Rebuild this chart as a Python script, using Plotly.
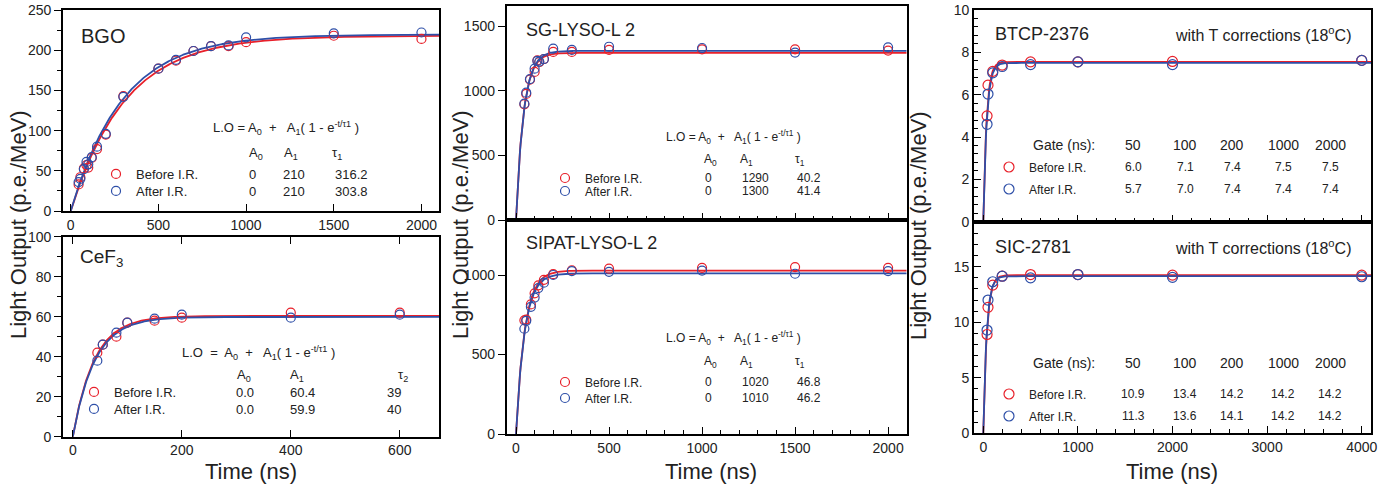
import numpy as np
import plotly.graph_objects as go

W, H = 1398, 488
FONT = "Liberation Sans, Arial, Helvetica, sans-serif"
RED = "#e8202a"
BLUE = "#2e4fa8"

# ---------------- data ----------------
# BGO
bgo_t = [45, 55, 75, 90, 100, 120, 150, 200, 300, 500, 600, 700, 800, 900, 1000, 1500, 2000]
bgo_before = [33, 42, 53, 57, 54, 66, 77, 95, 143, 177, 187, 199, 205, 205, 210, 218, 214]
bgo_after = [36, 40, 52, 61, 58, 67, 80, 96, 142, 177, 188, 199, 205, 206, 216, 221, 222]
bgo_fit_before = (218.0, 310.0)   # plateau, tau as drawn
bgo_fit_after = (219.5, 296.0)

# CeF3
cef_t = [45, 55, 80, 100, 150, 200, 400, 600]
cef_before = [42, 46, 50, 57, 58, 59.5, 62, 62]
cef_after = [38, 46, 52, 57, 59, 61, 59.5, 61]
cef_fit_before = (60.4, 39.0)
cef_fit_after = (59.9, 40.0)

# SG-LYSO-L 2
sg_t = [45, 55, 75, 100, 115, 125, 150, 200, 300, 500, 1000, 1500, 2000]
sg_before = [895, 975, 1085, 1145, 1235, 1220, 1245, 1300, 1300, 1315, 1320, 1320, 1310]
sg_after = [900, 985, 1090, 1170, 1230, 1225, 1245, 1325, 1315, 1340, 1330, 1295, 1335]
sg_fit_before = (1293.0, 40.2)
sg_fit_after = (1308.0, 41.4)

# SIPAT-LYSO-L 2
sp_t = [45, 55, 80, 100, 120, 150, 200, 300, 500, 1000, 1500, 2000]
sp_before = [715, 720, 815, 885, 935, 970, 1005, 1030, 1040, 1045, 1050, 1045]
sp_after = [662, 712, 800, 858, 918, 952, 1000, 1025, 1020, 1028, 1008, 1025]
sp_fit_before = (1028.0, 46.8)
sp_fit_after = (1010.0, 46.2)

# BTCP-2376
bt_t = [40, 50, 100, 200, 500, 1000, 2000, 4000]
bt_before = [5.0, 6.45, 7.1, 7.4, 7.55, 7.55, 7.57, 7.62]
bt_after = [4.6, 6.03, 7.03, 7.33, 7.42, 7.55, 7.42, 7.62]
bt_fit_before = (7.55, 35.0)
bt_fit_after = (7.5, 37.0)

# SIC-2781
sc_t = [40, 50, 100, 200, 500, 1000, 2000, 4000]
sc_before = [8.9, 11.35, 13.35, 14.15, 14.3, 14.3, 14.25, 14.25]
sc_after = [9.3, 12.0, 13.65, 14.15, 14.0, 14.3, 14.05, 14.1]
sc_fit_before = (14.25, 38.0)
sc_fit_after = (14.15, 36.0)

# table texts
gate_labels = ["50", "100", "200", "1000", "2000"]
bt_tab_before = ["6.0", "7.1", "7.4", "7.5", "7.5"]
bt_tab_after = ["5.7", "7.0", "7.4", "7.4", "7.4"]
sc_tab_before = ["10.9", "13.4", "14.2", "14.2", "14.2"]
sc_tab_after = ["11.3", "13.6", "14.1", "14.2", "14.2"]


def px(xp):
    return xp / W


def py(yp):
    return 1 - yp / H


# ---------------- panels ----------------
panels = [
    dict(name="BGO", xd=(63, 439), yd=(10, 211), xr=(-44, 2100), yr=(0, 250),
         t=bgo_t, b=bgo_before, a=bgo_after, fb=bgo_fit_before, fa=bgo_fit_after, msize=9),
    dict(name="CeF3", xd=(63, 439), yd=(236.7, 436.7), xr=(-18, 672), yr=(0, 100),
         t=cef_t, b=cef_before, a=cef_after, fb=cef_fit_before, fa=cef_fit_after, msize=9),
    dict(name="SG", xd=(506.7, 906.7), yd=(6, 220), xr=(-50, 2100), yr=(0, 1655),
         t=sg_t, b=sg_before, a=sg_after, fb=sg_fit_before, fa=sg_fit_after, msize=9),
    dict(name="SIPAT", xd=(506.7, 906.7), yd=(220, 434), xr=(-50, 2100), yr=(0, 1346),
         t=sp_t, b=sp_before, a=sp_after, fb=sp_fit_before, fa=sp_fit_after, msize=9),
    dict(name="BTCP", xd=(974, 1371), yd=(10, 221.7), xr=(-98, 4098), yr=(0, 10),
         t=bt_t, b=bt_before, a=bt_after, fb=bt_fit_before, fa=bt_fit_after, msize=10),
    dict(name="SIC", xd=(974, 1371), yd=(221.7, 433.3), xr=(-98, 4098), yr=(0, 19.06),
         t=sc_t, b=sc_before, a=sc_after, fb=sc_fit_before, fa=sc_fit_after, msize=10),
]

axis_style = [
    dict(xdt=500, xmin=None, xlab=True, xmir=True, ydt=50, ymin=25, ydir="outside"),
    dict(xdt=200, xmin=None, xlab=True, xmir="ticks", ydt=20, ymin=10, ydir="outside"),
    dict(xdt=500, xmin=100, xlab=False, xmir=True, ydt=500, ymin=None, ydir="outside"),
    dict(xdt=500, xmin=100, xlab=True, xmir=True, ydt=500, ymin=None, ydir="outside"),
    dict(xdt=1000, xmin=200, xlab=False, xmir=True, ydt=2, ymin=0.4, ydir="inside"),
    dict(xdt=1000, xmin=200, xlab=True, xmir=True, ydt=5, ymin=1, ydir="inside"),
]

# legend rows: legend left px, row centre px y (before / after), font size
legend_rows = [
    (96, 174, 191, 13),
    (74, 392, 409, 13),
    (545, 178, 191, 12),
    (545, 382, 398, 12),
    (989, 167, 189, 12),
    (989, 394, 416, 12),
]

fig = go.Figure()
layout = {}
legend_idx = 0
for i, (p, st) in enumerate(zip(panels, axis_style)):
    k = "" if i == 0 else str(i + 1)
    xa, ya = "x" + k, "y" + k
    tmax = p["xr"][1]
    tt = np.linspace(0, tmax, 600)
    for fit, col in ((p["fb"], RED), (p["fa"], BLUE)):
        A1, tau = fit
        fig.add_trace(go.Scatter(x=tt, y=A1 * (1 - np.exp(-tt / tau)), mode="lines",
                                 line=dict(color=col, width=1.8), showlegend=False,
                                 xaxis=xa, yaxis=ya, hoverinfo="skip"))
    lx, yb, yaft, fs = legend_rows[i]
    for vals, col, nm, yy in ((p["b"], RED, "Before I.R.", yb), (p["a"], BLUE, "After I.R.", yaft)):
        legend_idx += 1
        lname = "legend" if legend_idx == 1 else "legend%d" % legend_idx
        fig.add_trace(go.Scatter(x=p["t"], y=vals, mode="markers", name=nm,
                                 marker=dict(symbol="circle-open", size=p["msize"], color=col,
                                             line=dict(width=1.2, color=col)),
                                 xaxis=xa, yaxis=ya, legend=lname))
        layout[lname] = dict(x=px(lx), y=py(yy), xanchor="left", yanchor="middle",
                             bgcolor="rgba(0,0,0,0)", borderwidth=0,
                             font=dict(family=FONT, size=fs, color="#222"),
                             itemclick=False, itemdoubleclick=False)

    xd = (px(p["xd"][0]), px(p["xd"][1]))
    yd = (py(p["yd"][1]), py(p["yd"][0]))
    xax = dict(domain=xd, range=list(p["xr"]), anchor=ya, showline=True, linecolor="black",
               linewidth=1.8, mirror=st["xmir"], ticks="inside", ticklen=7, tickwidth=1,
               tickcolor="black", dtick=st["xdt"], tick0=0, showgrid=False, zeroline=False,
               showticklabels=st["xlab"], tickfont=dict(family=FONT, size=14, color="#222"))
    if st["xmin"]:
        xax["minor"] = dict(dtick=st["xmin"], tick0=0, ticks="inside", ticklen=4,
                            tickcolor="black", showgrid=False)
    yax = dict(domain=yd, range=list(p["yr"]), anchor=xa, showline=True, linecolor="black",
               linewidth=1.8, mirror=True, ticks=st["ydir"], ticklen=7, tickwidth=1,
               tickcolor="black", dtick=st["ydt"], tick0=0, showgrid=False, zeroline=False,
               tickfont=dict(family=FONT, size=14, color="#222"))
    if st["ymin"]:
        yax["minor"] = dict(dtick=st["ymin"], tick0=0, ticks=st["ydir"], ticklen=4,
                            tickcolor="black", showgrid=False)
    layout["xaxis" + k] = xax
    layout["yaxis" + k] = yax

ann = []


def txt(x, y, s, size=13, anchor="left", **kw):
    ann.append(dict(x=px(x), y=py(y), xref="paper", yref="paper", text=s, showarrow=False,
                    xanchor=anchor, yanchor="middle",
                    font=dict(family=FONT, size=size, color="#222"), **kw))


formula = "L.O = A<sub>0</sub>  +   A<sub>1</sub>( 1 - e<sup>-t/τ1</sup> )"
# BGO
txt(79, 36, "BGO", 20)
txt(211, 128, formula, 13)
txt(247, 153, "A<sub>0</sub>", 13)
txt(282, 153, "A<sub>1</sub>", 13)
txt(330, 153, "τ<sub>1</sub>", 13)
for yy, vals in ((174, ["0", "210", "316.2"]), (191, ["0", "210", "303.8"])):
    for xx, v in zip((247, 281, 333), vals):
        txt(xx, yy, v, 13)
# CeF3
txt(78, 258, "CeF<sub>3</sub>", 19)
txt(180, 353, "L.O  =  A<sub>0</sub>  +   A<sub>1</sub>( 1 - e<sup>-t/τ1</sup> )", 13)
txt(235, 375, "A<sub>0</sub>", 13)
txt(288, 375, "A<sub>1</sub>", 13)
txt(396, 375, "τ<sub>2</sub>", 13)
for yy, vals in ((392, ["0.0", "60.4", "39"]), (409, ["0.0", "59.9", "40"])):
    for xx, v in zip((234, 288, 385), vals):
        txt(xx, yy, v, 13)
# SG-LYSO
txt(524, 30, "SG-LYSO-L 2", 18)
txt(664, 137, formula, 12)
txt(702, 160, "A<sub>0</sub>", 12)
txt(738, 160, "A<sub>1</sub>", 12)
txt(793, 160, "τ<sub>1</sub>", 12)
for yy, vals in ((178, ["0", "1290", "40.2"]), (191, ["0", "1300", "41.4"])):
    for xx, v in zip((703, 740, 795), vals):
        txt(xx, yy, v, 12)
# SIPAT
txt(524, 243, "SIPAT-LYSO-L 2", 18)
txt(664, 338, formula, 12)
txt(702, 362, "A<sub>0</sub>", 12)
txt(738, 362, "A<sub>1</sub>", 12)
txt(793, 362, "τ<sub>1</sub>", 12)
for yy, vals in ((382, ["0", "1020", "46.8"]), (398, ["0", "1010", "46.2"])):
    for xx, v in zip((703, 740, 795), vals):
        txt(xx, yy, v, 12)
# BTCP / SIC
gate_x = [1133, 1185, 1232, 1283, 1330]
for ttl, ty, gy, rows in (("BTCP-2376", 34, 145, ((167, bt_tab_before), (189, bt_tab_after))),
                          ("SIC-2781", 247, 363, ((394, sc_tab_before), (416, sc_tab_after)))):
    txt(993, ty, ttl, 18)
    txt(1353, ty, "with T corrections (18<sup>o</sup>C)", 16, anchor="right")
    txt(1031, gy, "Gate (ns):", 14)
    for xx, g in zip(gate_x, gate_labels):
        txt(xx, gy, g, 14, anchor="center")
    for yy, vals in rows:
        for xx, v in zip(gate_x, vals):
            txt(xx, yy, v, 12, anchor="center")

# axis titles
for xx in (18, 460, 918):
    txt(xx, 225, "Light Output (p.e./MeV)", 22, anchor="center", textangle=-90)
for xx in (251, 711, 1172):
    txt(xx, 471, "Time (ns)", 22, anchor="center")

layout["annotations"] = ann
fig.update_layout(**layout)
fig.update_layout(width=W, height=H, margin=dict(l=0, r=0, t=0, b=0, autoexpand=False),
                  paper_bgcolor="white", plot_bgcolor="white", showlegend=True,
                  font=dict(family=FONT, color="#222"))
fig.write_html("out.html", config={"displayModeBar": False},
               post_script="document.body.style.margin='0px';")
